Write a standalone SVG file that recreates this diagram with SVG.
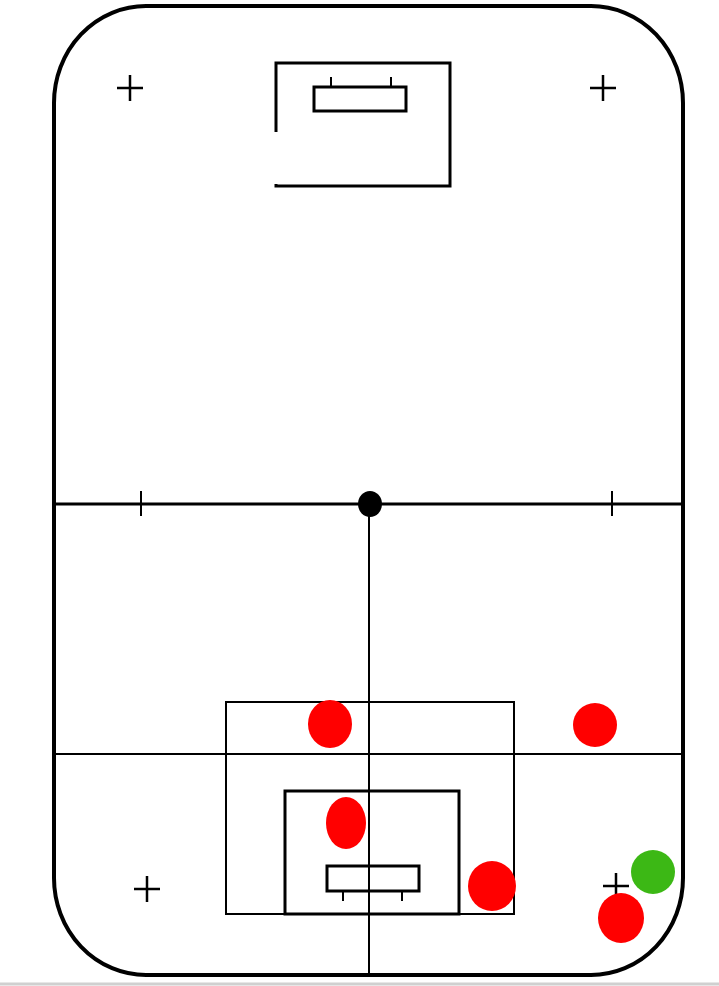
<svg xmlns="http://www.w3.org/2000/svg" width="719" height="986" viewBox="0 0 719 986">
<style>
.thick{fill:none;stroke:#000;stroke-width:4}
.mid{fill:none;stroke:#000;stroke-width:3}
.thin{fill:none;stroke:#000;stroke-width:2}
.plus{fill:none;stroke:#000;stroke-width:2.5}
.red{fill:#ff0000}
.green{fill:#3cb815}
</style>
<rect width="719" height="986" fill="#fff"/>
<g id="rink">
<rect x="54" y="6" width="629" height="969" rx="92" ry="97" class="thick"/>
</g>
<g id="lines">
<line x1="54" y1="504" x2="683" y2="504" class="mid"/>
<line x1="141" y1="491" x2="141" y2="516" class="thin"/>
<line x1="612" y1="491" x2="612" y2="516" class="thin"/>
<line x1="369" y1="504" x2="369" y2="975" class="thin"/>
<line x1="54" y1="754" x2="683" y2="754" class="thin"/>
</g>
<g id="center-dot"><ellipse cx="370" cy="504" rx="12" ry="13" fill="#000"/></g>
<g id="top-goal-area">
<rect x="276" y="63" width="174" height="123" class="mid"/>
<rect x="314" y="87" width="92" height="24" class="mid"/>
<line x1="331" y1="77" x2="331" y2="87" class="thin"/>
<line x1="391" y1="77" x2="391" y2="87" class="thin"/>
<rect x="270" y="132" width="13" height="52" fill="#fff"/>
</g>
<g id="bottom-zone">
<rect x="226" y="702" width="288" height="212" class="thin"/>
<rect x="285" y="791" width="174" height="123" class="mid"/>
<rect x="327" y="866" width="92" height="25" class="mid"/>
<line x1="343" y1="891" x2="343" y2="901" class="thin"/>
<line x1="402" y1="891" x2="402" y2="901" class="thin"/>
</g>
<g id="faceoff-marks">
<path d="M117 88H143M130 75V101" class="plus"/>
<path d="M590 88H616M603 75V101" class="plus"/>
<path d="M134 889H160M147 876V902" class="plus"/>
<path d="M603 886H629M616 873V899" class="plus"/>
</g>
<g id="players">
<ellipse cx="330" cy="724" rx="22" ry="24" class="red"/>
<ellipse cx="595" cy="725" rx="22" ry="22" class="red"/>
<ellipse cx="346" cy="823" rx="20" ry="26" class="red"/>
<ellipse cx="492" cy="886" rx="24" ry="25" class="red"/>
<ellipse cx="621" cy="918" rx="23" ry="25" class="red"/>
<ellipse cx="653" cy="872" rx="22" ry="22" class="green"/>
</g>
<line x1="0" y1="984" x2="719" y2="984" stroke="#d0d0d0" stroke-width="3"/>
</svg>
